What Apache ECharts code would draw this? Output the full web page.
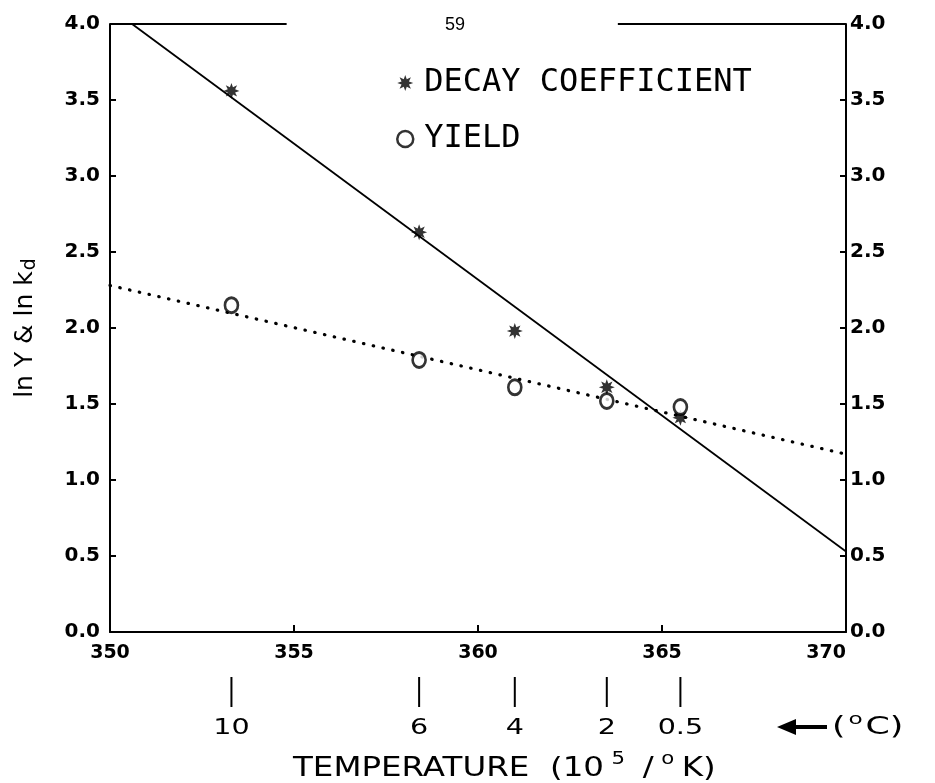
<!DOCTYPE html>
<html><head><meta charset="utf-8">
<script src="https://cdn.jsdelivr.net/npm/echarts@6/dist/echarts.min.js"></script>
<style>html,body{margin:0;padding:0;background:#fff}#c{width:935px;height:783px}</style>
</head><body><div id="c"></div>
<script>
// ---- data ----
const tempX = [353.3, 358.4, 361.0, 363.5, 365.5];          // 10^5 / K
const celsiusLabels = ['10', '6', '4', '2', '0.5'];          // deg C
const decayY = [3.56, 2.63, 1.98, 1.61, 1.41];               // ln kd
const yieldY = [2.15, 1.79, 1.61, 1.52, 1.48];               // ln Y
const decayFitX = [350.6, 370];
const decayFitY = [4.0, 0.53];
const yieldFitX = [350, 370];
const yieldFitY = [2.28, 1.17];
const xTickValues = [350, 355, 360, 365, 370];
const yTickValues = [0, 0.5, 1, 1.5, 2, 2.5, 3, 3.5, 4];
const legendNames = ['DECAY COEFFICIENT', 'YIELD'];

// asterisk symbol path
function asteriskPath() {
  let pts = [];
  for (let k = 0; k < 16; k++) {
    const a = k * Math.PI / 8;
    const r = (k % 2 === 0) ? 10 : 5;
    pts.push((r * Math.sin(a)).toFixed(2) + ',' + (-r * Math.cos(a)).toFixed(2));
  }
  return 'path://M' + pts.join('L') + 'Z';
}
const STAR = asteriskPath();

const zip = (a, b) => a.map((v, i) => [v, b[i]]);
const chart = echarts.init(document.getElementById('c'), null, {renderer: 'canvas'});

const yLabelStyle = {color: '#000', fontFamily: 'DejaVu Sans', fontWeight: 'bold', fontSize: 20,
  formatter: v => v.toFixed(1)};

const option = {
  backgroundColor: '#fff',
  animation: false,
  grid: {left: 110, right: 89, top: 24, bottom: 151},
  legend: {
    orient: 'vertical', left: 391, top: 62, itemGap: 24,
    itemWidth: 16, itemHeight: 16,
    data: [{name: legendNames[0], icon: STAR}, {name: legendNames[1], icon: 'circle',
      itemStyle: {color: '#fff', borderColor: '#000', borderWidth: 2.5}}],
    textStyle: {color: '#000', fontFamily: 'DejaVu Sans Mono', fontSize: 32, padding: [0, 0, 0, 6]},
    selectedMode: false
  },
  xAxis: {
    type: 'value', min: 350, max: 370, interval: 5,
    axisLine: {lineStyle: {color: '#000', width: 2}},
    axisTick: {inside: true, length: 7, lineStyle: {color: '#000', width: 2}},
    axisLabel: {color: '#000', fontFamily: 'DejaVu Sans', fontWeight: 'bold', fontSize: 19, margin: 12,
      alignMaxLabel: 'right', customValues: xTickValues},
    splitLine: {show: false}
  },
  yAxis: [{
    type: 'value', min: 0, max: 4, interval: 0.5, position: 'left',
    axisLine: {show: true, lineStyle: {color: '#000', width: 2}},
    axisTick: {show: true, inside: true, length: 6, lineStyle: {color: '#000', width: 2}},
    axisLabel: Object.assign({margin: 10}, yLabelStyle),
    splitLine: {show: false},
    name: '{a|ln Y & ln k}{sub|d}', nameLocation: 'middle', nameGap: 70,
    nameTextStyle: {rich: {
      a: {fontFamily: 'DejaVu Sans', fontSize: 25, color: '#000'},
      sub: {fontFamily: 'DejaVu Sans', fontSize: 19, color: '#000', verticalAlign: 'bottom', padding: [10, 0, 0, 1]}
    }}
  }, {
    type: 'value', min: 0, max: 4, interval: 0.5, position: 'right',
    axisLine: {show: true, lineStyle: {color: '#000', width: 2}},
    axisTick: {show: true, inside: true, length: 6, lineStyle: {color: '#000', width: 2}},
    axisLabel: Object.assign({margin: 4}, yLabelStyle),
    splitLine: {show: false}
  }],
  series: [
    {
      type: 'line', data: zip(decayFitX, decayFitY), symbol: 'none', silent: true,
      lineStyle: {color: '#000', width: 1.8},
      markLine: {
        silent: true, symbol: ['none', 'none'], label: {show: false},
        lineStyle: {color: '#000', width: 2, type: 'solid'},
        data: [
          [{coord: [350, 4]}, {coord: [354.8, 4]}],
          [{coord: [363.8, 4]}, {coord: [370, 4]}]
        ]
      }
    },
    {
      type: 'line', data: zip(yieldFitX, yieldFitY), symbol: 'none', silent: true,
      lineStyle: {color: '#000', width: 3.2, type: [0.5, 9.5], cap: 'round'}
    },
    {
      name: legendNames[0], type: 'scatter', data: zip(tempX, decayY),
      symbol: STAR, symbolSize: 16, itemStyle: {color: '#000'}, z: 5
    },
    {
      name: legendNames[1], type: 'scatter', data: zip(tempX, yieldY),
      symbol: 'circle', symbolSize: [13, 15],
      itemStyle: {color: '#fff', borderColor: '#000', borderWidth: 2.8}, z: 5
    },
    {
      type: 'custom', silent: true, clip: false,
      data: tempX.map(x => [x, 0]),
      encode: {x: 0, y: 1},
      renderItem: function (params, api) {
        const p = api.coord([api.value(0), 0]);
        return {type: 'group', children: [
          {type: 'line', shape: {x1: p[0], y1: p[1] + 45, x2: p[0], y2: p[1] + 75},
            style: {stroke: '#000', lineWidth: 2}},
          {type: 'text', x: p[0], y: p[1] + 96, scaleX: 1.3,
            style: {text: celsiusLabels[params.dataIndex], fill: '#000',
              font: '22px DejaVu Sans', align: 'center', verticalAlign: 'middle'}}
        ]};
      }
    }
  ],
  graphic: [
    {type: 'text', left: 445, top: 16,
      style: {text: '59', fill: '#000', font: '18px "Liberation Sans"'}},
    {type: 'text', x: 293, y: 751, scaleX: 1.25,
      style: {text: 'TEMPERATURE  (10{s|5} /{s|o}K)', fill: '#000', font: '26px DejaVu Sans',
        rich: {s: {fontSize: 17, fontFamily: 'DejaVu Sans', verticalAlign: 'top', padding: [0, 6, 20, 6]}}}},
    {type: 'polygon', shape: {points: [[777, 727], [796, 719], [796, 735]]}, style: {fill: '#000'}},
    {type: 'line', shape: {x1: 792, y1: 727, x2: 827, y2: 727}, style: {stroke: '#000', lineWidth: 4}},
    {type: 'text', x: 832, y: 712, scaleX: 1.45,
      style: {text: '({s|o}C)', fill: '#000', font: '24px DejaVu Sans',
        rich: {s: {fontSize: 16, fontFamily: 'DejaVu Sans', verticalAlign: 'top', padding: [0, 2, 16, 2]}}}}
  ]
};
chart.setOption(option);
</script>
</body></html>
